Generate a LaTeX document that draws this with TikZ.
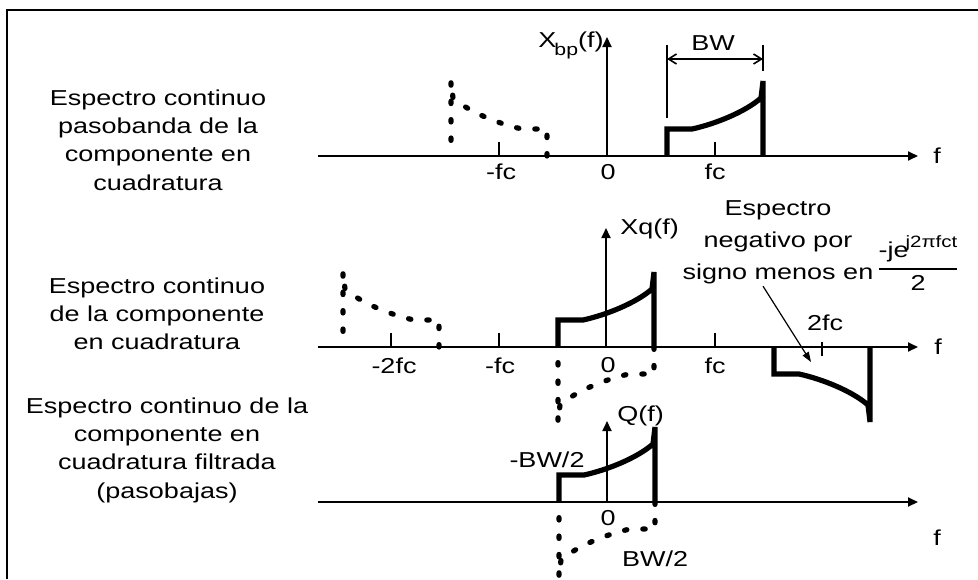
\documentclass[tikz,border=0pt]{standalone}
\usepackage{amsmath}
\usepackage{fontspec}
\setmainfont{Liberation Sans}[FakeStretch=1.25]
\usepackage{tikz}
\usetikzlibrary{arrows.meta,calc}

\tikzset{
  espectro/.pic={
    \draw (0,0) -- (0,-27) -- (25,-27) .. controls (48,-32) and (78,-44) .. (94,-58) -- (96,-75) -- (96,0);
  }
}

\begin{document}
\begin{tikzpicture}[x=0.5pt,y=-0.5pt,>={Triangle[length=5pt,width=4.5pt]},
    font=\fontsize{10.8}{14.2}\selectfont,
    eje/.style={line width=0.9pt},
    solido/.style={line width=2.6pt},
    punteado/.style={line width=2.6pt,line cap=round,dash pattern=on 1.2pt off 8pt},
    etiq/.style={inner sep=0pt}]
  \useasboundingbox (0,0) rectangle (978,579);
  % marco
  \draw[line width=1.1pt] (7,579) -- (7,10) -- (978,10);

  % espectro pasobanda
  \node[etiq,anchor=north,align=center] (textoA) at (158,89) {Espectro continuo\\pasobanda de la\\componente en\\cuadratura};
  \draw[eje,->] (318,156) -- (918,156);
  \draw[eje,->] (607,156) -- (607,37);
  \draw[eje] (499,142) -- (499,156);
  \draw[eje] (715,142) -- (715,156);
  \pic[solido] at (667,156) {espectro};
  \pic[punteado,xscale=-1] at (547,156) {espectro};
  \draw[line width=0.8pt] (667,45) -- (667,118);
  \draw[line width=0.8pt] (763,45) -- (763,71);
  \draw[line width=0.8pt,{Straight Barb[length=4pt,width=5pt]}-{Straight Barb[length=4pt,width=5pt]}] (667,59) -- (763,59);
  \node[etiq,anchor=base] (bwA) at (713,50) {BW};
  \node[etiq,anchor=base east] (xbp) at (604,47) {X\kern-1pt\raisebox{-4pt}{\fontsize{8.5}{8.5}\selectfont bp}(f)};
  \node[etiq,anchor=base] (mfcA) at (501,179) {-fc};
  \node[etiq,anchor=base] (ceroA) at (608,179) {0};
  \node[etiq,anchor=base] (fcA) at (715,179) {fc};
  \node[etiq] (fA) at (937,156) {f};

  % espectro en cuadratura
  \node[etiq,anchor=north,align=center] (textoB) at (157,277) {Espectro continuo\\de la componente\\en cuadratura};
  \draw[eje,->] (318,347) -- (918,347);
  \draw[eje,->] (606,347) -- (606,228);
  \draw[eje] (391,333) -- (391,347);
  \draw[eje] (499,333) -- (499,347);
  \draw[eje] (715,333) -- (715,347);
  \draw[eje] (822,342) -- (822,356);
  \pic[punteado,xscale=-1] at (439,347) {espectro};
  \pic[solido] at (558,347) {espectro};
  \pic[punteado,xscale=-1,yscale=-1] at (654,347) {espectro};
  \pic[solido,yscale=-1] at (774,347) {espectro};
  \node[etiq,anchor=base west] (xq) at (620,234) {Xq(f)};
  \node[etiq,anchor=base] (mdosfc) at (394,373) {-2fc};
  \node[etiq,anchor=base] (mfcB) at (500,373) {-fc};
  \node[etiq,anchor=base] (ceroB) at (608,372) {0};
  \node[etiq,anchor=base] (fcB) at (715,373) {fc};
  \node[etiq,anchor=base] (dosfc) at (825,330) {2fc};
  \node[etiq] (fB) at (938,347) {f};
  \node[etiq,anchor=north,align=center,font=\fontsize{10.8}{16}\selectfont] (anotacion) at (778,200) {Espectro\\negativo por\\signo menos en};
  \node[etiq,anchor=base] (fraccion) at (918,274) {$\genfrac{}{}{1pt}{0}{\mbox{-je\kern-1.5pt\raisebox{5pt}{\fontsize{8.2}{8.2}\selectfont j2πfct}}}{\mbox{2}}$};
  \coordinate (puntaB) at (811,362);
  \draw[line width=0.6pt,-{Triangle[length=5pt,width=3.5pt]}] (anotacion.south) ++(-15,2) -- (puntaB);

  % espectro filtrado
  \node[etiq,anchor=north,align=center] (textoC) at (167,397) {Espectro continuo de la\\componente en\\cuadratura filtrada\\(pasobajas)};
  \draw[eje,->] (318,502) -- (918,502);
  \draw[eje,->] (607,502) -- (607,421);
  \pic[solido] at (559,502) {espectro};
  \pic[punteado,xscale=-1,yscale=-1] at (655,502) {espectro};
  \node[etiq,anchor=base west] (qf) at (617,421) {Q(f)};
  \node[etiq,anchor=base] (mbw) at (547,467) {-BW/2};
  \node[etiq,anchor=base] (ceroC) at (608,525) {0};
  \node[etiq,anchor=base] (bwC) at (655,566) {BW/2};
  \node[etiq] (fC) at (937,538) {f};
\end{tikzpicture}
\end{document}
